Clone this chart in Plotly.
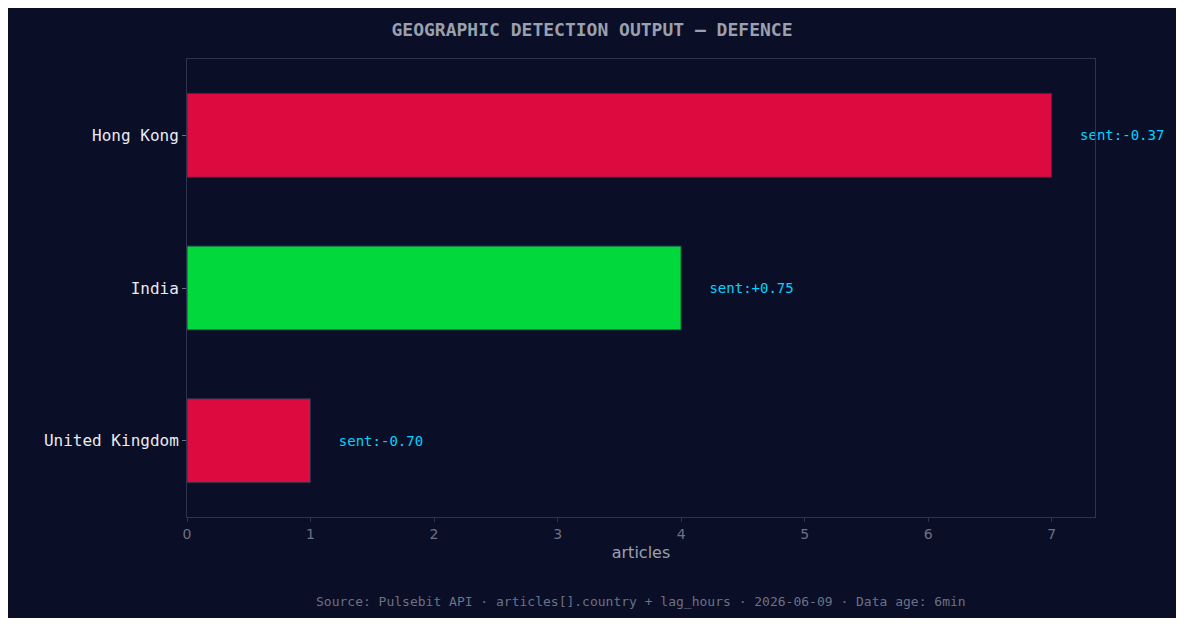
import plotly.graph_objects as go

countries = ["United Kingdom", "India", "Hong Kong"]
articles = [1, 4, 7]
sentiment = [-0.70, 0.75, -0.37]

colors = ["#00d83c" if s > 0 else "#dc0a3e" for s in sentiment]
labels = [f"   sent:{s:+.2f}" for s in sentiment]

fig = go.Figure(go.Bar(
    x=articles, y=countries, orientation="h", width=0.55,
    marker=dict(color=colors, line=dict(color="#2a2f4a", width=1)),
    text=labels, textposition="outside",
    textfont=dict(family="DejaVu Sans Mono", size=14, color="#00d4ff"),
    cliponaxis=False,
))

fig.update_layout(
    width=1168, height=610,
    paper_bgcolor="#0a0e27", plot_bgcolor="#0a0e27",
    margin=dict(l=179, r=81, t=51, b=101),
    title=dict(text="<b>GEOGRAPHIC DETECTION OUTPUT — DEFENCE</b>", x=0.5, y=0.975,
               font=dict(family="DejaVu Sans Mono", size=18, color="#9aa0ad")),
    xaxis=dict(range=[0, 7.35], dtick=1, showgrid=False, zeroline=False,
               showline=True, linecolor="#2e3450", mirror=True, ticks="outside",
               tickcolor="#2e3450", ticklen=4,
               tickfont=dict(family="DejaVu Sans", size=14, color="#6c7284"),
               title=dict(text="articles", font=dict(family="DejaVu Sans", size=16, color="#9aa0ad"), standoff=6)),
    yaxis=dict(showgrid=False, zeroline=False, showline=True, linecolor="#2e3450",
               mirror=True, ticks="outside", tickcolor="#6c7284", ticklen=4,
               tickfont=dict(family="DejaVu Sans Mono", size=16, color="#e8eaf0")),
    showlegend=False,
)
fig.update_traces(textangle=0)
fig.add_annotation(text="Source: Pulsebit API · articles[].country + lag_hours · 2026-06-09 · Data age: 6min",
                   xref="paper", yref="paper", x=0.5, xanchor="center", y=-0.185, yanchor="middle",
                   showarrow=False, font=dict(family="DejaVu Sans Mono", size=13, color="#6c7284"))

fig.write_html("out.html")
